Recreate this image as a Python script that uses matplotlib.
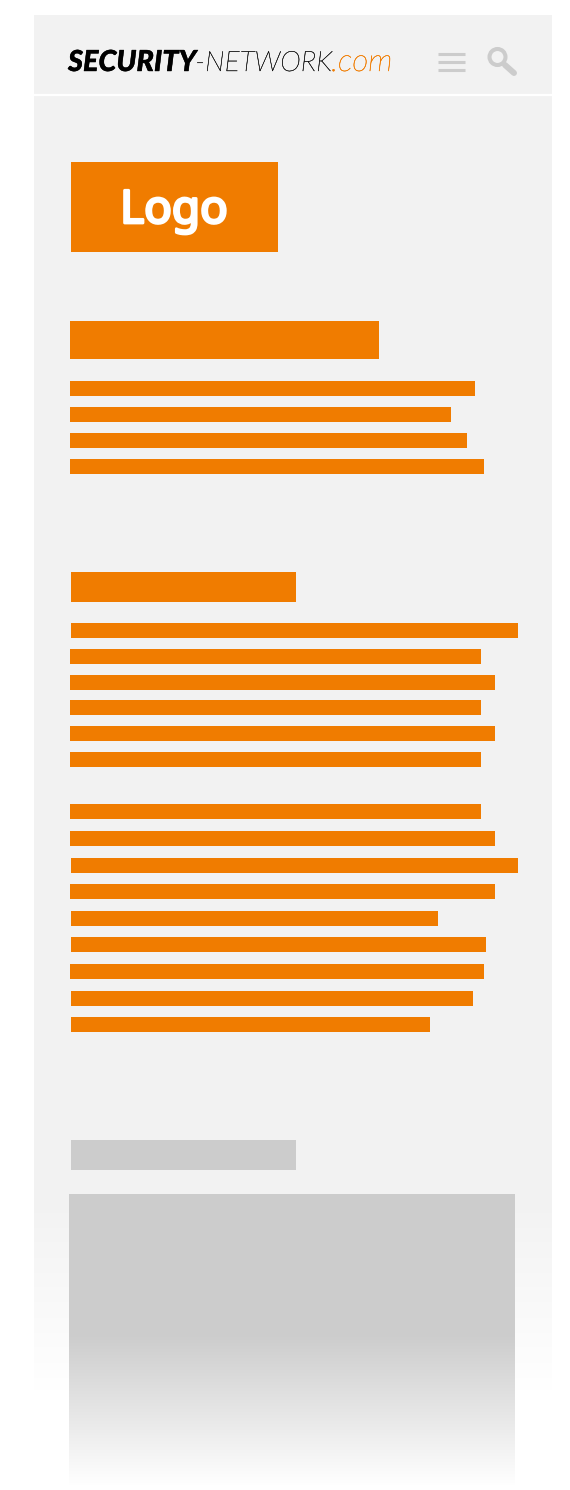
import numpy as np
import matplotlib
matplotlib.use("Agg")
import matplotlib.pyplot as plt
import matplotlib.patheffects as pe
from matplotlib.colors import LinearSegmentedColormap
from matplotlib.patches import Circle

ORANGE = "#f07c00"
PANEL = "#f2f2f2"
GREY = "#cccccc"

# block layout values: left, right, top, bottom
logo_box = (71, 278, 162, 252)
heading1 = (70, 379, 321, 359)
heading2 = (71, 296, 572, 602)
heading3 = (71, 296, 1140, 1170)
image_box = (69, 515, 1194, 1485)

group1_left = [70, 70, 70, 70]
group1_right = [475, 451, 467, 484]
group1_top = [381, 407, 433, 459]

group2_left = [71, 70, 70, 70, 70, 70]
group2_right = [518, 481, 495, 481, 495, 481]
group2_top = [623, 649, 675, 700, 726, 752]

group3_left = [70, 70, 71, 70, 71, 71, 70, 71, 71]
group3_right = [481, 495, 518, 495, 438, 486, 484, 473, 430]
group3_top = [804, 831, 858, 884, 911, 937, 964, 991, 1017]
line_height = 15

wordmark_runs = ["SECURITY", "-NETWORK", ".com"]

fig = plt.figure(figsize=(5.70, 14.90), dpi=100, facecolor="white")
ax = fig.add_axes([0, 0, 1, 1])
ax.set_xlim(0, 570)
ax.set_ylim(1490, 0)
ax.axis("off")


def block(b, color, z=3):
    ax.barh(b[2], b[1] - b[0], height=b[3] - b[2], left=b[0], align="edge",
            color=color, linewidth=0, zorder=z)


# panel with a fade to white at the bottom
ax.barh(15, 518, height=1375, left=34, align="edge", color=PANEL, linewidth=0, zorder=1)
ax.plot([34, 552], [94.5, 94.5], color="white", lw=1.6, zorder=2, solid_capstyle="butt")
fade = LinearSegmentedColormap.from_list("f", [(1, 1, 1, 0), (1, 1, 1, 1)])
ax.imshow(np.linspace(0, 1, 256).reshape(-1, 1), extent=(33, 553, 1392, 1197), cmap=fade,
          aspect="auto", zorder=2, interpolation="bilinear")

# image placeholder, solid then fading out
block(image_box, GREY)
ax.imshow(np.linspace(0, 1, 256).reshape(-1, 1), extent=(68, 516, 1486, 1333), cmap=fade,
          aspect="auto", zorder=4, interpolation="bilinear")
ax.set_xlim(0, 570)
ax.set_ylim(1490, 0)

block(logo_box, ORANGE)
block(heading1, ORANGE)
block(heading2, ORANGE)
block(heading3, GREY)
for lefts, rights, tops in [(group1_left, group1_right, group1_top),
                            (group2_left, group2_right, group2_top),
                            (group3_left, group3_right, group3_top)]:
    for l, r, t in zip(lefts, rights, tops):
        ax.barh(t, r - l, height=line_height, left=l, align="edge", color=ORANGE,
                linewidth=0, zorder=3)

ax.text(174, 223, "Logo", color="white", fontsize=33,
        family="Noto Sans", ha="center", va="baseline", zorder=5,
        path_effects=[pe.withStroke(linewidth=2.0, foreground="white")])

# masthead wordmark, three runs at their own start positions
for s, x, size, c, w, sw in zip(wordmark_runs, [68, 195, 331], [20.8, 20.2, 22.5],
                                ["black", "#111111", ORANGE], ["black", "light", "light"],
                                [0.3, 0.25, 0.3]):
    ax.text(x, 71, s, color=c, fontsize=size, fontweight=w, style="italic",
            family="Lato", ha="left", va="baseline", zorder=5,
            path_effects=[pe.withStroke(linewidth=sw, foreground=c)])

# menu icon
for y in [54.2, 61.5, 69.5]:
    ax.plot([438, 465], [y, y], color=GREY, lw=2.2, solid_capstyle="butt", zorder=5)
# search icon
ax.add_patch(Circle((497.5, 57), 8, fill=False, edgecolor=GREY, lw=2.9, zorder=5))
ax.plot([505, 514], [65, 73], color=GREY, lw=4.3, solid_capstyle="round", zorder=5)

fig.savefig("out.png", dpi=100)
